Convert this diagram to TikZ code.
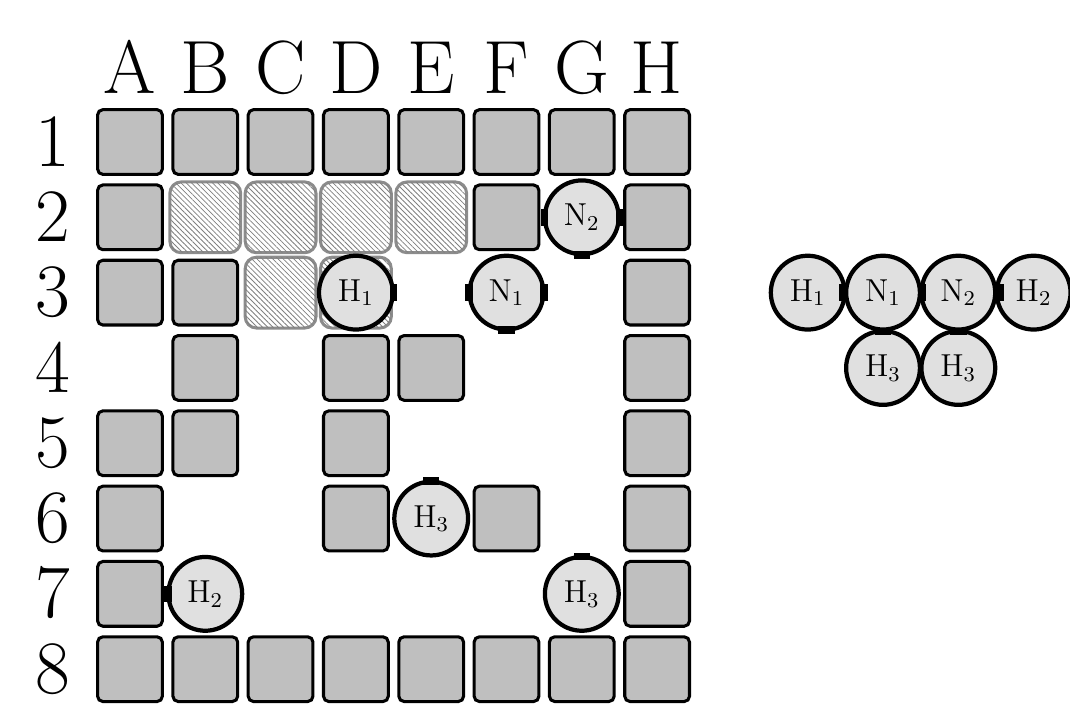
\documentclass[tikz,border=0pt]{standalone}
\usepackage{amsmath,amssymb}
\usepackage{tikz}
\usetikzlibrary{patterns.meta}

\begin{document}
\begin{tikzpicture}[
  wall/.style={draw,line width=1.15pt,fill=black!25,rounded corners=2pt,minimum size=8.6mm,inner sep=0pt},
  zone/.style={draw=black!45,line width=1.15pt,fill=white,rounded corners=1.5mm,minimum size=9.4mm,inner sep=0pt,
    postaction={pattern={Lines[angle=-45,distance=1.4pt,line width=0.3pt]},pattern color=black!50}},
  atom/.style={circle,draw,line width=1.6pt,fill=black!12,minimum size=9.8mm,inner sep=0pt,font=\large},
  bv/.style={fill=black,minimum width=1mm,minimum height=2.2mm,inner sep=0pt},
  bh/.style={fill=black,minimum width=2.2mm,minimum height=1mm,inner sep=0pt},
  lbl/.style={font=\fontsize{28.5}{32}\selectfont,anchor=base,inner sep=0pt}]
\useasboundingbox (-1.726,-7.463) rectangle (12.483,1.886);

% column and row labels
\node[lbl] (cA) at (0,0.65) {A}; \node[lbl] (cB) at (1,0.65) {B};
\node[lbl] (cC) at (2,0.65) {C}; \node[lbl] (cD) at (3,0.65) {D};
\node[lbl] (cE) at (4,0.65) {E}; \node[lbl] (cF) at (5,0.65) {F};
\node[lbl] (cG) at (6,0.65) {G}; \node[lbl] (cH) at (7,0.65) {H};
\node[lbl] (r1) at (-1.02,-0.32) {1}; \node[lbl] (r2) at (-1.02,-1.32) {2};
\node[lbl] (r3) at (-1.02,-2.32) {3}; \node[lbl] (r4) at (-1.02,-3.32) {4};
\node[lbl] (r5) at (-1.02,-4.32) {5}; \node[lbl] (r6) at (-1.02,-5.32) {6};
\node[lbl] (r7) at (-1.02,-6.32) {7}; \node[lbl] (r8) at (-1.02,-7.32) {8};

% walls
\node[wall] (wA1) at (0,0) {}; \node[wall] (wB1) at (1,0) {}; \node[wall] (wC1) at (2,0) {};
\node[wall] (wD1) at (3,0) {}; \node[wall] (wE1) at (4,0) {}; \node[wall] (wF1) at (5,0) {};
\node[wall] (wG1) at (6,0) {}; \node[wall] (wH1) at (7,0) {};
\node[wall] (wA2) at (0,-1) {}; \node[wall] (wF2) at (5,-1) {}; \node[wall] (wH2) at (7,-1) {};
\node[wall] (wA3) at (0,-2) {}; \node[wall] (wB3) at (1,-2) {}; \node[wall] (wH3) at (7,-2) {};
\node[wall] (wB4) at (1,-3) {}; \node[wall] (wD4) at (3,-3) {}; \node[wall] (wE4) at (4,-3) {};
\node[wall] (wH4) at (7,-3) {};
\node[wall] (wA5) at (0,-4) {}; \node[wall] (wB5) at (1,-4) {}; \node[wall] (wD5) at (3,-4) {};
\node[wall] (wH5) at (7,-4) {};
\node[wall] (wA6) at (0,-5) {}; \node[wall] (wD6) at (3,-5) {}; \node[wall] (wF6) at (5,-5) {};
\node[wall] (wH6) at (7,-5) {};
\node[wall] (wA7) at (0,-6) {}; \node[wall] (wH7) at (7,-6) {};
\node[wall] (wA8) at (0,-7) {}; \node[wall] (wB8) at (1,-7) {}; \node[wall] (wC8) at (2,-7) {};
\node[wall] (wD8) at (3,-7) {}; \node[wall] (wE8) at (4,-7) {}; \node[wall] (wF8) at (5,-7) {};
\node[wall] (wG8) at (6,-7) {}; \node[wall] (wH8) at (7,-7) {};

% hatched target cells
\node[zone] (zB2) at (1,-1) {}; \node[zone] (zC2) at (2,-1) {};
\node[zone] (zD2) at (3,-1) {}; \node[zone] (zE2) at (4,-1) {};
\node[zone] (zC3) at (2,-2) {}; \node[zone] (zD3) at (3,-2) {};

% atoms on the board
\node[atom] (h1)  at (3,-2) {$\mathrm{H}_1$};
\node[atom] (n1)  at (5,-2) {$\mathrm{N}_1$};
\node[atom] (n2)  at (6,-1) {$\mathrm{N}_2$};
\node[atom] (h3a) at (4,-5) {$\mathrm{H}_3$};
\node[atom] (h2)  at (1,-6) {$\mathrm{H}_2$};
\node[atom] (h3b) at (6,-6) {$\mathrm{H}_3$};
\node[bv] (ph1e)  at ([xshift=-0.2mm]h1.east) {};
\node[bv] (pn1w)  at ([xshift=0.2mm]n1.west) {};
\node[bv] (pn1e)  at ([xshift=-0.2mm]n1.east) {};
\node[bh] (pn1s)  at ([yshift=0.2mm]n1.south) {};
\node[bv] (pn2w)  at ([xshift=0.2mm]n2.west) {};
\node[bv] (pn2e)  at ([xshift=-0.2mm]n2.east) {};
\node[bh] (pn2s)  at ([yshift=0.2mm]n2.south) {};
\node[bh] (ph3an) at ([yshift=-0.2mm]h3a.north) {};
\node[bv] (ph2w)  at ([xshift=0.2mm]h2.west) {};
\node[bh] (ph3bn) at ([yshift=-0.2mm]h3b.north) {};

% target molecule
\node[atom] (mh1)  at (9,-2)  {$\mathrm{H}_1$};
\node[atom] (mn1)  at (10,-2) {$\mathrm{N}_1$};
\node[atom] (mn2)  at (11,-2) {$\mathrm{N}_2$};
\node[atom] (mh2)  at (12,-2) {$\mathrm{H}_2$};
\node[atom] (mh3a) at (10,-3) {$\mathrm{H}_3$};
\node[atom] (mh3b) at (11,-3) {$\mathrm{H}_3$};
\node[bv] (qh1n1) at ([xshift=-0.5mm]mh1.east) {};
\node[bv] (qn1n2) at ([xshift=0mm]mn1.east) {};
\node[bv] (qn2h2) at ([xshift=0.4mm]mn2.east) {};
\node[bh] (qn1h3) at ([yshift=0mm]mn1.south) {};
\node[bh] (qn2h3) at ([yshift=0mm]mn2.south) {};
\end{tikzpicture}
\end{document}
